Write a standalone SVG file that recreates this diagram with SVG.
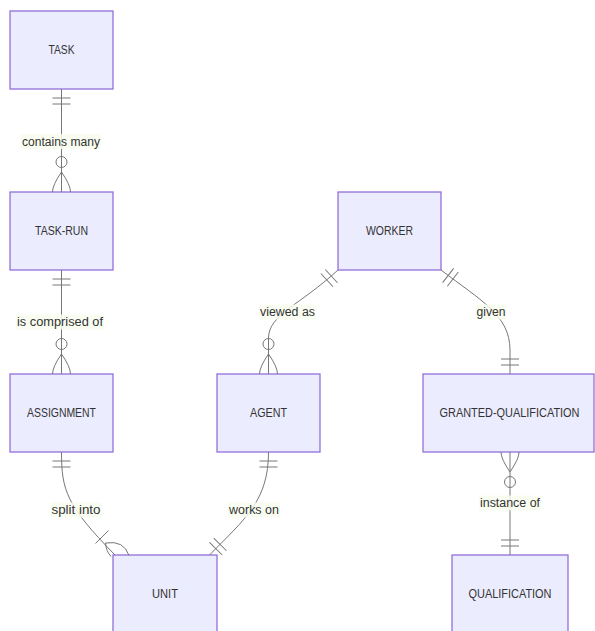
<svg xmlns="http://www.w3.org/2000/svg" xmlns:xlink="http://www.w3.org/1999/xlink" width="595" height="631" viewBox="0 0 595 631">
<style>
.ent rect{fill:#ECECFF;stroke:#9370DB;stroke-width:1.3}
.ent text{font-family:"Liberation Sans",Arial,sans-serif;font-size:13px;fill:#333;text-anchor:middle}
.edge{fill:none;stroke:#777;stroke-width:1}
.mk{fill:none;stroke:#777;stroke-width:1}
.mk circle{fill:#fff}
.lbl rect{fill:#f8fdee;opacity:0.85}
.lbl text{font-family:"Liberation Sans",Arial,sans-serif;font-size:12px;fill:#333;text-anchor:middle}
</style>
<defs>
<path id="one" d="M9,-9V9M15,-9V9"/>
<g id="zmany"><path d="M20,0Q7,-9 0,-9M20,0Q7,9 0,9"/><circle cx="30" cy="0" r="5.5"/></g>
</defs>
<g id="entities">
<g id="TASK" class="ent"><rect x="10" y="11" width="103" height="78"/><text x="61.5" y="54" textLength="26" lengthAdjust="spacingAndGlyphs">TASK</text></g>
<g id="TASK-RUN" class="ent"><rect x="10" y="192" width="103" height="78"/><text x="61.5" y="235" textLength="53" lengthAdjust="spacingAndGlyphs">TASK-RUN</text></g>
<g id="ASSIGNMENT" class="ent"><rect x="10" y="374" width="103" height="78"/><text x="61.5" y="417" textLength="69" lengthAdjust="spacingAndGlyphs">ASSIGNMENT</text></g>
<g id="AGENT" class="ent"><rect x="217" y="374" width="103" height="78"/><text x="268.5" y="417" textLength="37" lengthAdjust="spacingAndGlyphs">AGENT</text></g>
<g id="WORKER" class="ent"><rect x="338" y="192" width="103" height="78"/><text x="389.5" y="235" textLength="47" lengthAdjust="spacingAndGlyphs">WORKER</text></g>
<g id="GRANTED-QUALIFICATION" class="ent"><rect x="423" y="374" width="171" height="78"/><text x="509.5" y="417" style="font-size:12px" textLength="140" lengthAdjust="spacingAndGlyphs">GRANTED-QUALIFICATION</text></g>
<g id="UNIT" class="ent"><rect x="113" y="555" width="104" height="78"/><text x="165" y="598" textLength="26" lengthAdjust="spacingAndGlyphs">UNIT</text></g>
<g id="QUALIFICATION" class="ent"><rect x="452" y="555" width="116" height="78"/><text x="510" y="598" textLength="83" lengthAdjust="spacingAndGlyphs">QUALIFICATION</text></g>
</g>
<g id="connectors">
<path class="edge" d="M61.5,89V192"/>
<path class="edge" d="M61.5,270V374"/>
<path class="edge" d="M338,270C300,305 268.5,315 268.5,338V374"/>
<path class="edge" d="M441,270C480,300 510,315 510,350V374"/>
<path class="edge" d="M61.5,452C61.5,490 66,505 115,555"/>
<path class="edge" d="M268.5,452C268.5,500 246,518 209.5,555"/>
<path class="edge" d="M510,452V555"/>
<g class="mk">
<use xlink:href="#one" href="#one" transform="translate(61.5,89) rotate(90)"/>
<use xlink:href="#zmany" href="#zmany" transform="translate(61.5,192) rotate(-90)"/>
<use xlink:href="#one" href="#one" transform="translate(61.5,270) rotate(90)"/>
<use xlink:href="#zmany" href="#zmany" transform="translate(61.5,374) rotate(-90)"/>
<use xlink:href="#one" href="#one" transform="translate(338,270) rotate(137.4)"/>
<use xlink:href="#zmany" href="#zmany" transform="translate(268.5,374) rotate(-90)"/>
<use xlink:href="#one" href="#one" transform="translate(441,270) rotate(37.7)"/>
<use xlink:href="#one" href="#one" transform="translate(510,374) rotate(-90)"/>
<use xlink:href="#one" href="#one" transform="translate(61.5,452) rotate(90)"/>
<path d="M95.5,543.5L108.5,530.5M105.5,543Q106,551 111,556.5M105.5,543Q124,540 129,555.5"/>
<use xlink:href="#one" href="#one" transform="translate(268.5,452) rotate(90)"/>
<use xlink:href="#one" href="#one" transform="translate(209.5,555) rotate(-45)"/>
<use xlink:href="#zmany" href="#zmany" transform="translate(510,452) rotate(90)"/>
<use xlink:href="#one" href="#one" transform="translate(510,555) rotate(-90)"/>
</g>
</g>
<g id="labels">
<g class="lbl"><rect x="21" y="134" width="80" height="15"/><text x="61" y="145.5" textLength="78" lengthAdjust="spacingAndGlyphs">contains many</text></g>
<g class="lbl"><rect x="16" y="314.5" width="88" height="15"/><text x="60" y="326" textLength="86" lengthAdjust="spacingAndGlyphs">is comprised of</text></g>
<g class="lbl"><rect x="259" y="304.5" width="57" height="15"/><text x="287.5" y="316" textLength="55" lengthAdjust="spacingAndGlyphs">viewed as</text></g>
<g class="lbl"><rect x="475.5" y="304.5" width="31" height="15"/><text x="491" y="316" textLength="29" lengthAdjust="spacingAndGlyphs">given</text></g>
<g class="lbl"><rect x="50.5" y="502.5" width="51" height="15"/><text x="76" y="514" textLength="49" lengthAdjust="spacingAndGlyphs">split into</text></g>
<g class="lbl"><rect x="228" y="502.5" width="52" height="15"/><text x="254" y="514" textLength="50" lengthAdjust="spacingAndGlyphs">works on</text></g>
<g class="lbl"><rect x="479" y="495.5" width="62" height="15"/><text x="510" y="507" textLength="60" lengthAdjust="spacingAndGlyphs">instance of</text></g>
</g>
</svg>
